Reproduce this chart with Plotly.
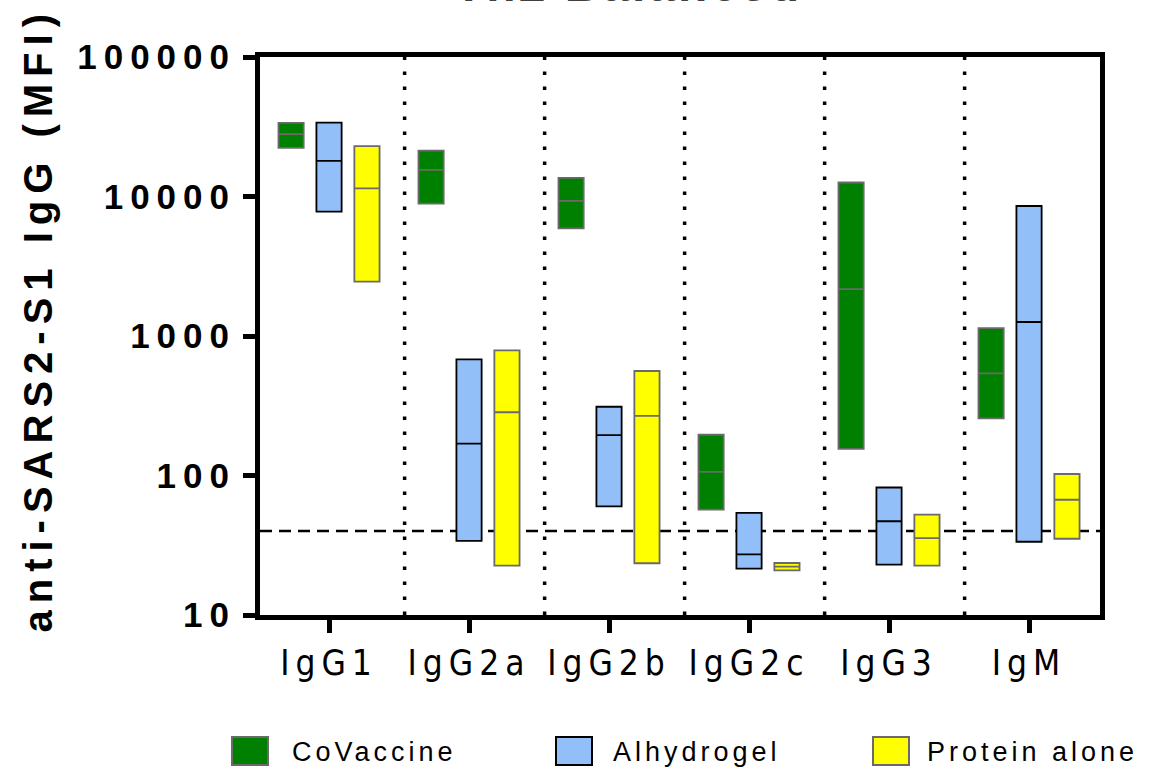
import plotly.graph_objects as go

categories = ["IgG1", "IgG2a", "IgG2b", "IgG2c", "IgG3", "IgM"]
groups = ["CoVaccine", "Alhydrogel", "Protein alone"]

cov_min = [22300, 8900, 5900, 57, 155, 257]
cov_med = [28000, 15500, 9300, 106, 2170, 540]
cov_max = [33700, 21300, 13600, 196, 12600, 1140]

alh_min = [7800, 34, 60, 21.5, 23, 33.5]
alh_med = [18000, 169, 195, 27.2, 47, 1260]
alh_max = [33900, 680, 311, 54, 82, 8550]

pro_min = [2450, 22.6, 23.5, 20.9, 22.6, 35.2]
pro_med = [11450, 284, 268, 22.2, 35.6, 67]
pro_max = [23000, 789, 561, 23.6, 52.4, 102.5]

threshold = 40
y_tickvals = [10, 100, 1000, 10000, 100000]
y_ticktext = ["10", "100", "1000", "10000", "100000"]

fills = ["#008000", "#92BFF8", "#FFFF00"]
edges = ["#6a6a6a", "#000000", "#6a6a6a"]
offsets = [-0.271, 0.0, 0.271]
series = [(cov_min, cov_med, cov_max), (alh_min, alh_med, alh_max), (pro_min, pro_med, pro_max)]

NARROW = "Liberation Sans Narrow, Arial Narrow, DejaVu Sans Condensed, Liberation Sans, Arial, sans-serif"
SANS = "Liberation Sans, Arial, sans-serif"

fig = go.Figure()
for g, (mn, md, mx), fc, ec, off in zip(groups, series, fills, edges, offsets):
    fig.add_trace(go.Box(
        name=g,
        x=[i + off for i in range(len(categories))],
        q1=mn, median=md, q3=mx, lowerfence=mn, upperfence=mx,
        width=0.18, whiskerwidth=0,
        fillcolor=fc, line=dict(color=ec, width=1.8),
        boxpoints=False, showlegend=False, hoverinfo="skip",
    ))

# separators between groups (dotted)
for k in range(len(categories) - 1):
    fig.add_shape(type="line", xref="x", yref="paper", x0=k + 0.54, x1=k + 0.54, y0=0, y1=1,
                  line=dict(color="black", width=3.5, dash="3.5px,11.5px"), layer="below")
# detection threshold
fig.add_shape(type="line", xref="paper", yref="y", x0=0, x1=1, y0=threshold, y1=threshold,
              line=dict(color="black", width=2.6, dash="12px,7px"), layer="below")

annotations = []
# 0: title
annotations.append(dict(text="<b>Th2 Balanced</b>", xref="paper", yref="paper",
                        x=(628 - 260) / 840, y=(615 - 13) / 558, xanchor="center", yanchor="bottom",
                        showarrow=False, font=dict(family=SANS, size=48, color="#404040")))
# 1: y title
annotations.append(dict(text="<b>anti-SARS2-S1 IgG (MFI)</b>", xref="paper", yref="paper",
                        x=(38 - 260) / 840, y=(615 - 320) / 558, xanchor="center", yanchor="middle",
                        textangle=-90, showarrow=False,
                        font=dict(family=SANS, size=40, color="black")))
# legend
sw_x = [232, 556, 873]
txt_c = [374, 697, 1032]
for g, fc, ec, sx, tc in zip(groups, fills, edges, sw_x, txt_c):
    fig.add_shape(type="rect", xref="paper", yref="paper",
                  x0=(sx - 260) / 840, x1=(sx + 36 - 260) / 840,
                  y0=(615 - 765) / 558, y1=(615 - 737) / 558,
                  fillcolor=fc, line=dict(color=ec, width=2))
    annotations.append(dict(text=g, xref="paper", yref="paper",
                            x=(tc - 260) / 840, y=(615 - 752) / 558, xanchor="center", yanchor="middle",
                            showarrow=False, font=dict(family=SANS, size=27, color="black")))

fig.update_layout(
    width=1159, height=769,
    margin=dict(l=260, r=59, t=57, b=154),
    paper_bgcolor="white", plot_bgcolor="white",
    boxmode="overlay", showlegend=False,
    annotations=annotations,
    xaxis=dict(type="linear", range=[-0.493, 5.507],
               tickvals=list(range(len(categories))), ticktext=categories,
               showline=True, linecolor="black", linewidth=5, mirror=True,
               ticks="outside", ticklen=13, tickwidth=5, tickcolor="black",
               showgrid=False, zeroline=False,
               tickfont=dict(family=NARROW, size=35, color="black")),
    yaxis=dict(type="log", range=[1, 5],
               tickvals=y_tickvals, ticktext=["<b>%s</b>" % t for t in y_ticktext],
               showline=True, linecolor="black", linewidth=5, mirror=True,
               ticks="outside", ticklen=12, tickwidth=5, tickcolor="black",
               showgrid=False, zeroline=False,
               tickfont=dict(family=SANS, size=35, color="black")),
)

post = """
document.body.style.margin = '0';
document.body.style.overflow = 'hidden';
var s = document.createElement('style');
s.innerHTML = 'body{margin:0} .xtick text{letter-spacing:6px} .ytick text{letter-spacing:7px}'
 + ' g.annotation[data-index="0"] text{letter-spacing:3px}'
 + ' g.annotation[data-index="1"] text{letter-spacing:7px}'
 + ' g.annotation[data-index="2"] text, g.annotation[data-index="3"] text, g.annotation[data-index="4"] text{letter-spacing:4px}';
document.head.appendChild(s);
"""
fig.write_html("out.html", post_script=post, config={"displayModeBar": False})
